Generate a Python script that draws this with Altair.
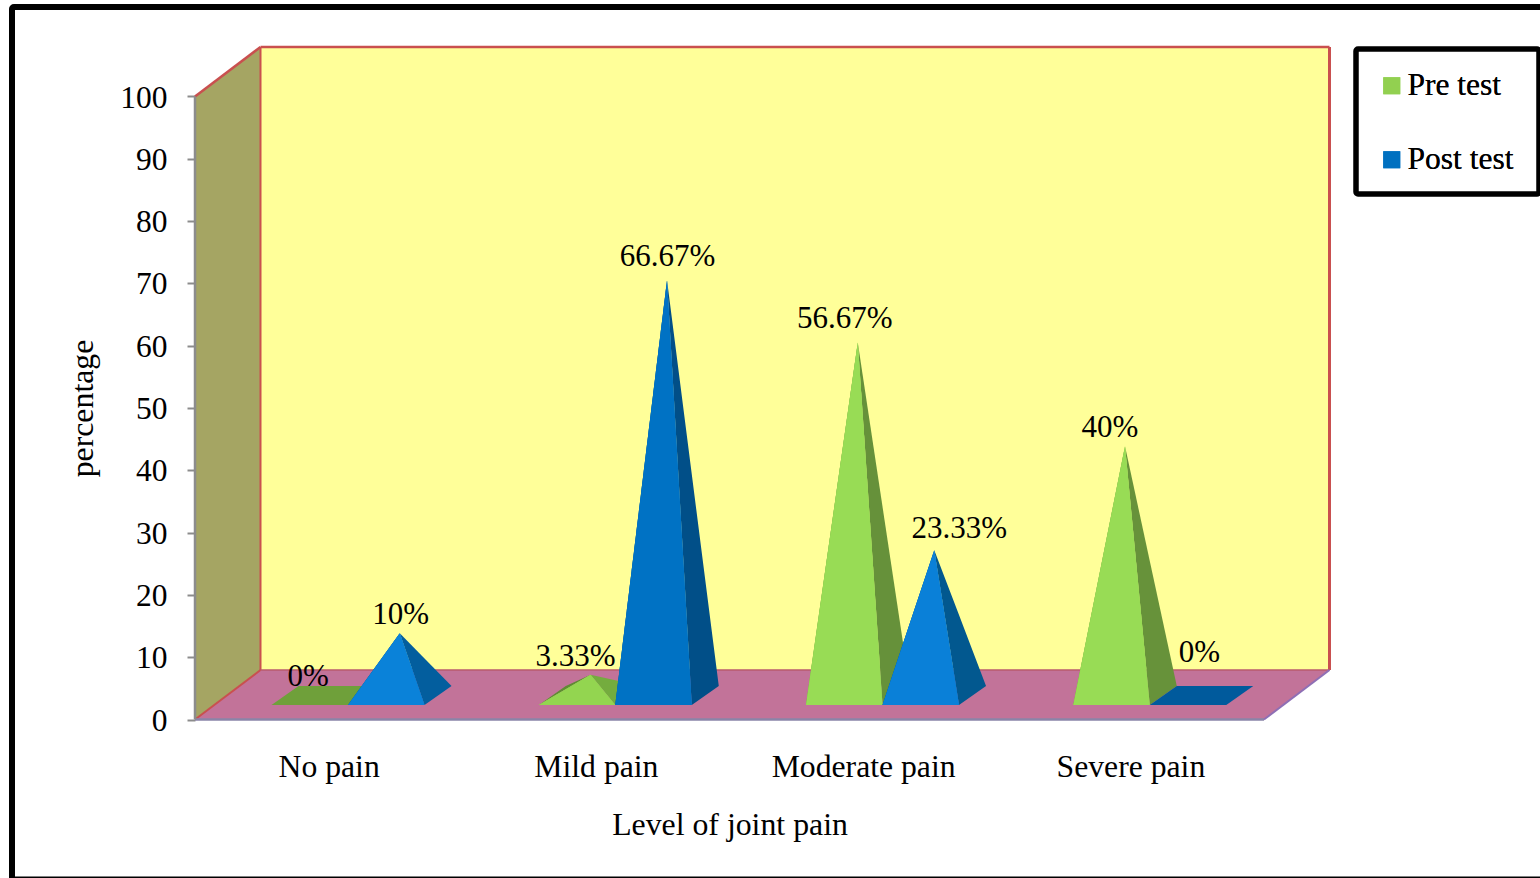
import altair as alt
import pandas as pd

# Survey results, percent of respondents per pain level
categories = ["No pain", "Mild pain", "Moderate pain", "Severe pain"]
pre_test = [0, 3.33, 56.67, 40]
post_test = [10, 66.67, 23.33, 0]
series_names = ["Pre test", "Post test"]
y_ticks = [0, 10, 20, 30, 40, 50, 60, 70, 80, 90, 100]

FONT = "Liberation Serif"
PX_X = 267.25   # pixels per category
PX_Y = 6.23     # pixels per percentage point
ZERO_PX = 719.5
PLOT_W = 1345

# Oblique projection of the box and the pyramid footprints, in axis units
WALL_DX = 65.5 / PX_X
WALL_DY = 49.5 / PX_Y
WALL_TOP = 100 + WALL_DY
BASE_Y = 14.5 / PX_Y
BASE_W = 76.5 / PX_X
DEPTH_X = 27 / PX_X
DEPTH_Y = 19 / PX_Y
GROUP_SHIFT = 19.4 / PX_X

# Face shades per series and category
FRONT = {"Pre test": ["#92D050", "#93D550", "#98DC55", "#98DC55"],
         "Post test": ["#0A82D9", "#0072C4", "#0A80D8", "#0070C0"]}
SIDE = {"Pre test": ["#6FA03A", "#74AC3E", "#66913A", "#67923A"],
        "Post test": ["#035E9E", "#014F88", "#02588F", "#005A9C"]}
BACK = {"Pre test": "#5F8C33", "Post test": "#004B80"}
SERIES_COLORS = ["#92D050", "#0070C0"]

# Label nudges in pixels from each apex (right, up)
NUDGE = {"Pre test": [(-15, 18.5), (-15, 18), (-13, 23), (-15, 18)],
         "Post test": [(1, 18), (0.5, 23), (25, 21), (-2, 42.5)]}


def triangle(vertices, face, **extra):
    """Rows for an area mark that fills a triangle: x-sorted, with y and y2 bounds."""
    pts = sorted(vertices)
    (xa, ya), (xb, yb), (xc, yc) = pts
    span = xc - xa
    on_edge = ya + (yc - ya) * (xb - xa) / span if span else yb
    return [
        dict(face=face, x=xa, y=ya, y2=ya, **extra),
        dict(face=face, x=xb, y=yb, y2=on_edge, **extra),
        dict(face=face, x=xc, y=yc, y2=yc, **extra),
    ]


def series_faces(name, values):
    back, side, front, foot, labels = [], [], [], [], []
    for i, v in enumerate(values):
        mid = i + 0.5 + GROUP_SHIFT
        x0 = mid - BASE_W if name == series_names[0] else mid
        x1 = x0 + BASE_W
        ax = (x0 + x1) / 2 + DEPTH_X / 2
        ay = BASE_Y + DEPTH_Y / 2 + v
        fid = f"{name}-{i}"
        top_y = BASE_Y + DEPTH_Y
        if v > 0:
            back += triangle([(x0, BASE_Y), (x0 + DEPTH_X, top_y), (ax, ay)], fid, shade=BACK[name])
            side += triangle([(x1, BASE_Y), (x1 + DEPTH_X, top_y), (ax, ay)], fid, shade=SIDE[name][i])
            front += triangle([(x0, BASE_Y), (x1, BASE_Y), (ax, ay)], fid, shade=FRONT[name][i], series=name)
        else:
            foot += [
                dict(face=fid, x=x0, y=BASE_Y, y2=BASE_Y, shade=SIDE[name][i]),
                dict(face=fid, x=x0 + DEPTH_X, y=BASE_Y, y2=top_y, shade=SIDE[name][i]),
                dict(face=fid, x=x1, y=BASE_Y, y2=top_y, shade=SIDE[name][i]),
                dict(face=fid, x=x1 + DEPTH_X, y=top_y, y2=top_y, shade=SIDE[name][i]),
            ]
        nx, ny = NUDGE[name][i]
        labels.append(dict(x=ax + nx / PX_X, y=ay + ny / PX_Y, text=f"{v:g}%"))
    return back, side, front, foot, labels


x_scale = alt.Scale(domain=[0, PLOT_W / PX_X], nice=False, zero=False)
y_scale = alt.Scale(domain=[0, ZERO_PX / PX_Y], nice=False, zero=False)

label_expr = "[" + ",".join(f"'{c}'" for c in categories) + "][floor(datum.value)]"
x_axis = alt.Axis(
    values=[0.5, 1.5, 2.5, 3.5], labelExpr=label_expr, title="Level of joint pain",
    domain=False, ticks=False, grid=False, labelFont=FONT, labelFontSize=31.7,
    labelLimit=400, labelColor="#000", labelPadding=31.5, titleFont=FONT, titleFontSize=31.8,
    titleFontWeight="normal", titleColor="#000", titleX=534.5, titleY=90,
    titleAlign="center", titleAnchor="middle",
)
y_axis = alt.Axis(
    values=y_ticks, title="percentage", domain=False, grid=False, tickSize=8,
    tickWidth=2, tickColor="#8C8C8C", labelFont=FONT, labelFontSize=31.5,
    labelColor="#000", labelPadding=20, labelOffset=1.5, titleFont=FONT, titleFontSize=31.8,
    titleFontWeight="normal", titleColor="#000", titleX=-96, titleY=408,
    titleAlign="center", titleAngle=270,
)
x_plain = alt.X("x:Q", scale=x_scale, axis=x_axis, stack=None)
y_plain = alt.Y("y:Q", scale=y_scale, axis=y_axis, stack=None)
y2_enc = alt.Y2("y2:Q")


def faces_layer(rows, with_legend=False):
    frame = pd.DataFrame(rows)
    if with_legend:
        color = alt.Color(
            "series:N", scale=alt.Scale(domain=series_names, range=SERIES_COLORS),
            legend=alt.Legend(
                title=None, orient="none", legendX=1180, legendY=70, symbolType="square",
                symbolSize=289, symbolOffset=1, symbolStrokeWidth=0, labelFont=FONT,
                labelFontSize=31.5, labelColor="#000", labelOffset=0, rowPadding=41, padding=0,
            ),
        )
    else:
        color = alt.Color("shade:N", scale=None)
    return alt.Chart(frame).mark_area(interpolate="linear", orient="vertical").encode(
        x=x_plain, y=y_plain, y2=y2_enc, detail="face:N", color=color,
    )


# Outer frame and legend box, outlines only, in pixel space
frame_box = alt.Chart(pd.DataFrame({"a": [0]})).mark_rect(
    fillOpacity=0, stroke="#000", strokeWidth=6, cornerRadius=2
).encode(x=alt.value(-183), x2=alt.value(1500), y=alt.value(7), y2=alt.value(879.5))
legend_box = alt.Chart(pd.DataFrame({"a": [0]})).mark_rect(
    fillOpacity=0, stroke="#000", strokeWidth=5.5, cornerRadius=2
).encode(x=alt.value(1161), x2=alt.value(1344), y=alt.value(49), y2=alt.value(194))

# Box: left wall, floor, back wall
wall_left = alt.Chart(pd.DataFrame([
    dict(x=0, y=0, y2=100), dict(x=WALL_DX, y=WALL_DY, y2=WALL_TOP),
])).mark_area(color="#A5A563", orient="vertical").encode(x=x_plain, y=y_plain, y2=y2_enc)
floor = alt.Chart(pd.DataFrame([
    dict(x=0, y=0, y2=0), dict(x=WALL_DX, y=0, y2=WALL_DY),
    dict(x=4, y=0, y2=WALL_DY), dict(x=4 + WALL_DX, y=WALL_DY, y2=WALL_DY),
])).mark_area(color="#C27399", orient="vertical").encode(x=x_plain, y=y_plain, y2=y2_enc)
wall_back = alt.Chart(pd.DataFrame([
    dict(x=WALL_DX, x2=4 + WALL_DX, y=WALL_DY, y2=WALL_TOP),
])).mark_rect(color="#FFFF99").encode(x=x_plain, x2="x2:Q", y=y_plain, y2=y2_enc)

# Box edges as straight segments
edges = pd.DataFrame([
    dict(x=0, x2=WALL_DX, y=100, y2=WALL_TOP, c="#C9504F", w=2.5),
    dict(x=WALL_DX, x2=4 + WALL_DX, y=WALL_TOP, y2=WALL_TOP, c="#C9504F", w=2.5),
    dict(x=4 + WALL_DX, x2=4 + WALL_DX, y=WALL_DY, y2=WALL_TOP, c="#C9504F", w=3),
    dict(x=WALL_DX, x2=WALL_DX, y=WALL_DY, y2=WALL_TOP, c="#C9504F", w=2),
    dict(x=WALL_DX, x2=4 + WALL_DX, y=WALL_DY, y2=WALL_DY, c="#B85A6E", w=1.5),
    dict(x=0, x2=WALL_DX, y=0, y2=WALL_DY, c="#C9504F", w=2),
    dict(x=4, x2=4 + WALL_DX, y=0, y2=WALL_DY, c="#8E6FB5", w=2),
    dict(x=0, x2=4, y=0, y2=0, c="#8A84A8", w=2.5),
    dict(x=0, x2=0, y=0, y2=100, c="#8C8C8C", w=2.5),
])
edge_rules = alt.Chart(edges).mark_rule().encode(
    x=x_plain, x2="x2:Q", y=y_plain, y2=y2_enc,
    color=alt.Color("c:N", scale=None), strokeWidth=alt.StrokeWidth("w:Q", scale=None),
)

layers = [frame_box, legend_box, wall_left, floor, wall_back, edge_rules]
all_labels = []
for name, values in zip(series_names, [pre_test, post_test]):
    back, side, front, foot, labels = series_faces(name, values)
    all_labels += labels
    if foot:
        layers.append(faces_layer(foot))
    layers += [faces_layer(back), faces_layer(side), faces_layer(front, with_legend=True), faces_layer(front)]

text_layer = alt.Chart(pd.DataFrame(all_labels)).mark_text(
    font=FONT, fontSize=31, color="#000", align="center", baseline="middle"
).encode(x=x_plain, y=y_plain, text="text:N")
layers.append(text_layer)

chart = alt.layer(*layers).resolve_scale(color="independent").properties(
    width=PLOT_W, height=ZERO_PX, background="white",
    autosize=alt.AutoSizeParams(type="none"),
    padding={"left": 195, "top": 0, "right": 0, "bottom": 158.5},
).configure_view(stroke=None)

chart.save("out.html", embed_options={"renderer": "svg", "actions": False})
